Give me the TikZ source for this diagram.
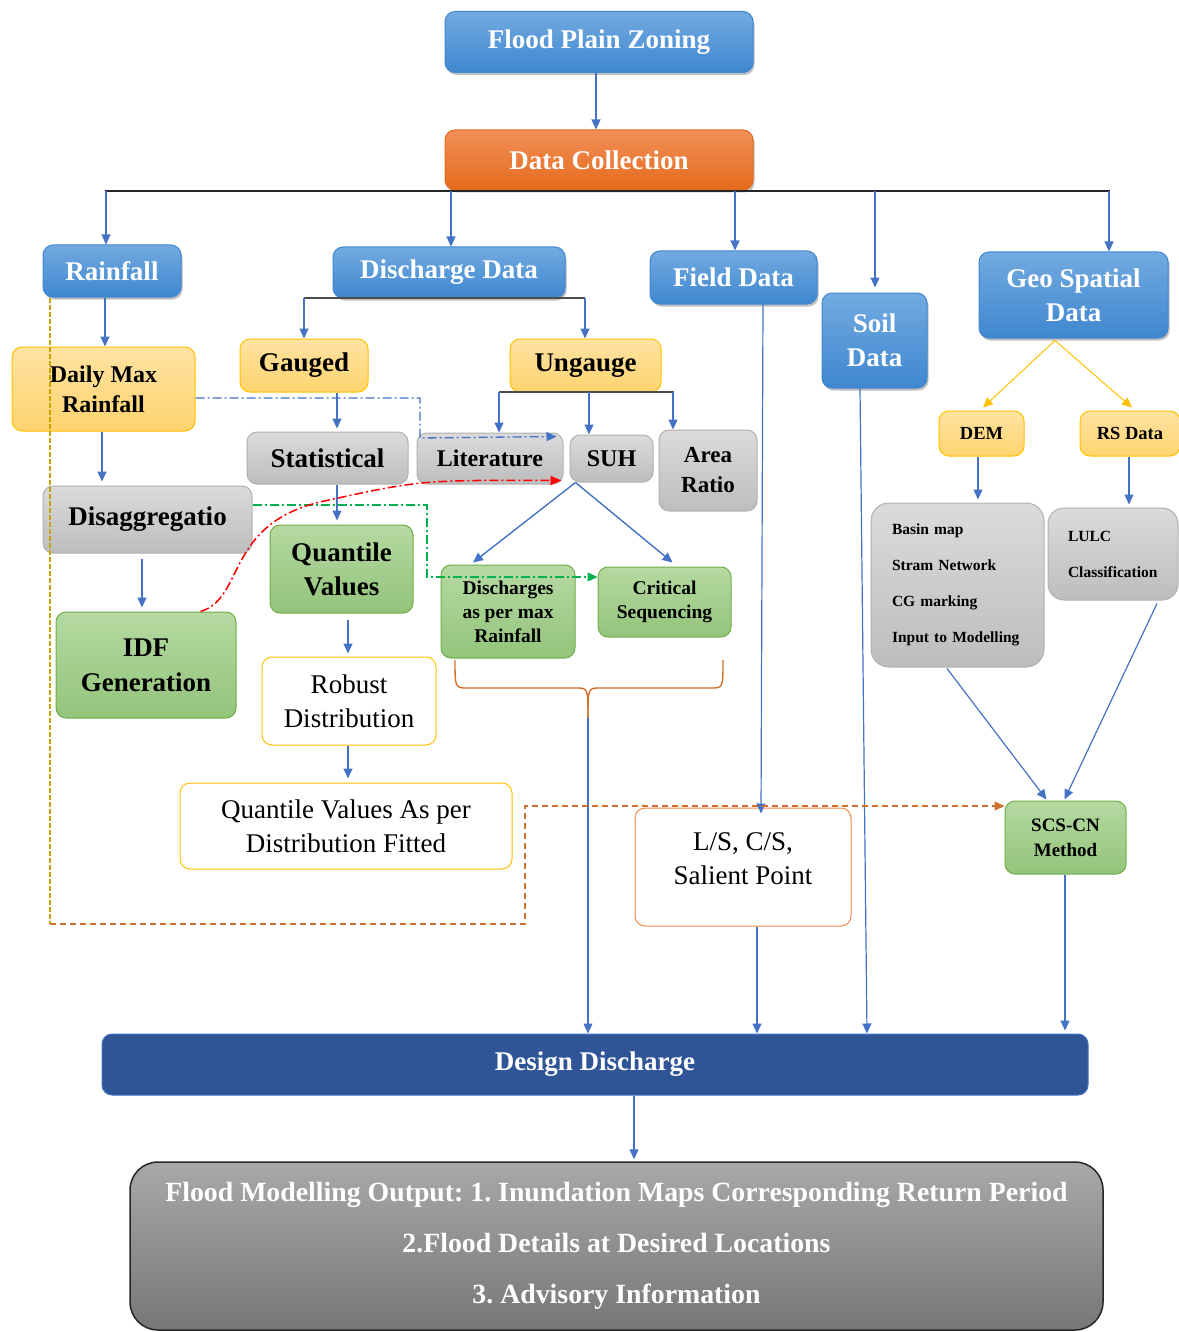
\documentclass[tikz,border=0pt]{standalone}
\usepackage{fontspec}
\setmainfont{Liberation Serif}
\usetikzlibrary{arrows.meta,shadows,calc}
\frenchspacing
\definecolor{blueT}{HTML}{72AAE0}
\definecolor{blueB}{HTML}{3F87D0}
\definecolor{orT}{HTML}{F29058}
\definecolor{orB}{HTML}{E56A1C}
\definecolor{yeT}{HTML}{FFE3A3}
\definecolor{yeB}{HTML}{FFD46E}
\definecolor{yeD}{HTML}{FFC000}
\definecolor{grT}{HTML}{DBDBDB}
\definecolor{grB}{HTML}{BDBDBD}
\definecolor{grD}{HTML}{B0B0B0}
\definecolor{gnT}{HTML}{B5D9A2}
\definecolor{gnB}{HTML}{93C47B}
\definecolor{gnD}{HTML}{70AD47}
\definecolor{arrowblue}{HTML}{4472C4}
\definecolor{ddblue}{HTML}{2F5597}
\definecolor{lsor}{HTML}{F08A4B}
\definecolor{brown}{HTML}{D0702A}
\definecolor{gold}{HTML}{C9A200}
\definecolor{dgreen}{HTML}{00B050}
\definecolor{outT}{HTML}{A8A8A8}
\definecolor{outB}{HTML}{777777}
\begin{document}
\begin{tikzpicture}[x=1pt,y=-1pt,
  box/.style={rounded corners=10pt, inner sep=0pt, align=center, line width=1pt,
    font=\bfseries\fontsize{27}{34}\selectfont},
  shad/.style={drop shadow={shadow xshift=1.5pt, shadow yshift=-2.5pt, opacity=0.35, fill=black!70}},
  bluebox/.style={box, shad, draw=blueB, top color=blueT, bottom color=blueB, text=white},
  orbox/.style={box, shad, draw=orB, top color=orT, bottom color=orB, text=white},
  yebox/.style={box, draw=yeD, top color=yeT, bottom color=yeB, text=black},
  grbox/.style={box, draw=grD, top color=grT, bottom color=grB, text=black},
  gnbox/.style={box, draw=gnD, top color=gnT, bottom color=gnB, text=black},
  wbox/.style={box, draw=yeD, fill=white, text=black, font=\fontsize{27}{34}\selectfont},
  arr/.style={draw=arrowblue, line width=1.2pt, -{Triangle[length=10pt,width=9pt]}},
  yarr/.style={draw=yeD, line width=1pt, -{Triangle[length=10pt,width=9pt]}},
  bus/.style={draw=black!85, line width=1.6pt},
  gbus/.style={draw=black!70, line width=2.2pt},
  dashdot/.style={line width=1.3pt, dash pattern=on 9pt off 3pt on 2pt off 3pt},
]
\useasboundingbox (0,0) rectangle (1178,1332);

% ---------- nodes ----------
\node[bluebox, minimum width=308pt, minimum height=61pt] (fpz) at (599,42) {Flood Plain Zoning};
\node[orbox, minimum width=308pt, minimum height=60pt] (dc) at (599,160) {Data Collection};

\node[bluebox, minimum width=138pt, minimum height=52pt] (rain) at (112,271) {Rainfall};
\node[bluebox, minimum width=232pt, minimum height=51pt] (dis) at (449,272.5) {Discharge Data};
\node[bluebox, minimum width=167pt, minimum height=53pt] (field) at (733.5,277.5) {Field Data};
\node[bluebox, minimum width=105pt, minimum height=95pt] (soil) at (874.5,340.5) {Soil\\Data};
\node[bluebox, minimum width=189pt, minimum height=86pt] (geo) at (1073.5,295) {Geo Spatial\\Data};

\node[yebox, minimum width=183pt, minimum height=84pt, font=\bfseries\fontsize{24}{30}\selectfont] (dmr) at (103.5,389) {Daily Max\\Rainfall};
\node[yebox, minimum width=128pt, minimum height=53pt] (gau) at (304,365.5) {Gauged};
\node[yebox, minimum width=151pt, minimum height=53pt] (ung) at (585.5,365.5) {Ungauge};

\node[grbox, minimum width=161pt, minimum height=52pt] (stat) at (327.5,458) {Statistical};
\node[grbox, minimum width=146pt, minimum height=51pt, font=\bfseries\fontsize{24}{30}\selectfont] (lit) at (490,458.5) {Literature};
\node[grbox, minimum width=83pt, minimum height=47pt, font=\bfseries\fontsize{24}{30}\selectfont] (suh) at (611.5,458.5) {SUH};
\node[grbox, minimum width=98pt, minimum height=81pt, font=\bfseries\fontsize{23}{30}\selectfont] (area) at (708,470.5) {Area\\Ratio};

\node[grbox, minimum width=209pt, minimum height=67pt] (dsg) at (147.5,519.5) {\raisebox{5pt}{Disaggregatio}};
\node[gnbox, minimum width=143pt, minimum height=88pt] (qv) at (341.5,569) {Quantile\\Values};
\node[gnbox, minimum width=180pt, minimum height=106pt, font=\bfseries\fontsize{27}{35}\selectfont] (idf) at (146,665) {IDF\\Generation};
\node[wbox, minimum width=174pt, minimum height=88pt] (rob) at (349,701) {Robust\\Distribution};
\node[wbox, minimum width=332pt, minimum height=86pt] (qvd) at (346,826) {Quantile Values As per\\Distribution Fitted};

\node[gnbox, minimum width=134pt, minimum height=93pt, font=\bfseries\fontsize{19.5}{24}\selectfont] (dpm) at (508,611.5) {Discharges\\as per max\\Rainfall};
\node[gnbox, minimum width=133pt, minimum height=70pt, font=\bfseries\fontsize{19.5}{24}\selectfont] (crit) at (664.5,602) {Critical\\Sequencing};

\node[box, draw=lsor, fill=white, minimum width=216pt, minimum height=118pt] (ls) at (743,867) {};
\node[font=\fontsize{27}{34}\selectfont, align=center, inner sep=0pt] (lst) at (743,859) {L/S, C/S,\\Salient Point};

\node[yebox, minimum width=85pt, minimum height=45pt, font=\bfseries\fontsize{18.5}{24}\selectfont] (dem) at (981.5,433.5) {DEM};
\node[yebox, minimum width=100pt, minimum height=45pt, font=\bfseries\fontsize{18.5}{24}\selectfont] (rs) at (1130,433.5) {RS Data};

\node[grbox, rounded corners=18pt, minimum width=173pt, minimum height=164pt, text width=131pt, inner xsep=21pt, align=left, font=\bfseries\fontsize{15.5}{36}\selectfont] (basin) at (957.5,585) {Basin map\\Stram Network\\CG marking\\Input to Modelling};
\node[grbox, rounded corners=16pt, minimum width=130pt, minimum height=92pt, text width=90pt, inner xsep=20pt, align=left, font=\bfseries\fontsize{15.5}{36}\selectfont] (lulc) at (1113,554) {\raisebox{4pt}{\parbox{90pt}{\raggedright LULC\\Classification}}};

\node[gnbox, minimum width=121pt, minimum height=73pt, font=\bfseries\fontsize{19}{25}\selectfont] (scs) at (1065.5,837.5) {SCS-CN\\Method};

\node[box, draw=arrowblue, fill=ddblue, text=white, minimum width=986pt, minimum height=61pt] (dd) at (595,1064.5) {Design Discharge};
\node[box, rounded corners=28pt, draw=black!85, line width=1.5pt, top color=outT, bottom color=outB, text=white, minimum width=973pt, minimum height=168pt, font=\bfseries\fontsize{27.8}{51}\selectfont] (out) at (616.5,1246) {Flood Modelling Output: 1. Inundation Maps Corresponding Return Period\\2.Flood Details at Desired Locations\\3. Advisory Information};

% ---------- connectors ----------
\draw[arr] (fpz.south -| 596,0) -- (dc.north -| 596,0);

\coordinate (busL) at (105,191);
\coordinate (busR) at (1110,191);
\draw[bus] (busL) -- (busR);
\coordinate (b1) at (106,191);
\coordinate (b2) at (451,191);
\coordinate (b3) at (735,191);
\coordinate (b4) at (875,191);
\coordinate (b5) at (1109,191);
\draw[arr] (b1) -- (b1 |- rain.north);
\draw[arr] (b2) -- (b2 |- dis.north);
\draw[arr] (b3) -- (b3 |- field.north);
\draw[arr] (b4) -- ($(b4 |- soil.north)+(0,-5)$);
\draw[arr] (b5) -- (b5 |- geo.north);

% discharge split
\coordinate (dL) at (304,298);
\coordinate (dR) at (585,298);
\draw[gbus] (dL) -- (dR);
\draw[arr] (dL) -- (dL |- gau.north);
\draw[arr] (dR) -- (dR |- ung.north);

% ungauge split
\coordinate (uL) at (499,392);
\coordinate (uM) at (589,392);
\coordinate (uR) at (674,392);
\draw[gbus] (uL) -- (uR);
\draw[arr] (uL) -- (uL |- lit.north);
\draw[arr] (uM) -- (uM |- suh.north);
\draw[arr] ([xshift=-1pt]uR) -- ([xshift=-1pt]uR |- area.north);

% rainfall chain
\draw[arr] (rain.south -| 105,0) -- (dmr.north -| 105,0);
\draw[arr] (dmr.south -| 102,0) -- ($(dsg.north -| 102,0)+(0,-4)$);
\draw[arr] ($(dsg.south -| 142,0)+(0,5)$) -- ($(idf.north -| 142,0)+(0,-4)$);

% gauged chain
\draw[arr] (gau.south -| 337,0) -- ($(stat.north -| 337,0)+(0,-3)$);
\draw[arr] (stat.south -| 337,0) -- ($(qv.north -| 337,0)+(0,-4)$);
\draw[arr] ($(qv.south -| 348,0)+(0,6)$) -- ($(rob.north -| 348,0)+(0,-3)$);
\draw[arr] (rob.south -| 348,0) -- ($(qvd.north -| 348,0)+(0,-4)$);

% SUH split
\coordinate (sb) at ([xshift=-36pt]suh.south);
\draw[arr, line width=1.4pt] (sb) -- ([xshift=-35pt,yshift=2pt]dpm.north);
\draw[arr, line width=1.4pt] (sb) -- ([xshift=8pt,yshift=4pt]crit.north);

% brace under dpm and crit
\coordinate (bt) at (588,718);
\draw[brown, line width=1.4pt] (455,660) .. controls (455,688) .. (468,688) -- (576,688) .. controls (588,688) .. (bt);
\draw[brown, line width=1.4pt] (bt) .. controls (588,688) .. (600,688) -- (711,688) .. controls (723,688) .. (723,660);
\draw[arr] (bt) -- (bt |- dd.north);

% field data / soil data
\draw[arr] ([xshift=29.5pt]field.south) -- ([xshift=18pt,yshift=-6pt]ls.north);
\draw[arr] ([xshift=14pt]ls.south) -- ([xshift=14pt]ls.south |- dd.north);
\draw[arr] ([xshift=-14.5pt]soil.south) -- (867,0 |- dd.north);

% geo spatial
\coordinate (gb) at ([xshift=-18.5pt,yshift=-2pt]geo.south);
\draw[yarr] (gb) -- ([xshift=1.5pt,yshift=3pt]dem.north);
\draw[yarr] (gb) -- ([xshift=2pt,yshift=3pt]rs.north);
\draw[arr] (dem.south -| 978,0) -- ($(basin.north -| 978,0)+(0,-3)$);
\draw[arr] (rs.south -| 1129,0) -- ($(lulc.north -| 1129,0)+(0,-3)$);
\draw[arr] ([xshift=-10.5pt,yshift=-1pt]basin.south) -- ([xshift=-19pt,yshift=1pt]scs.north);
\draw[arr] ([xshift=44pt,yshift=-3pt]lulc.south) -- ([xshift=-1pt,yshift=1pt]scs.north);
\draw[arr] (scs.south -| 1065,0) -- ($(dd.north -| 1065,0)+(0,-3)$);

\draw[arr] (dd.south -| 634,0) -- ($(out.north -| 634,0)+(0,-2)$);

% ---------- dashed relations ----------
\draw[arrowblue, dashdot, -{Triangle[length=10pt,width=9pt]}] (dmr.east |- 0,398) -- (420,398) -- (420,438) -- ([xshift=-7pt,yshift=-4pt]lit.north east);
\draw[dgreen, dashdot, -{Triangle[length=10pt,width=9pt]}] (dsg.east |- 0,505) -- (427,505) -- (427,577) -- (crit.west |- 0,577);
\draw[red, dashdot, line width=1.5pt, -{Triangle[length=11pt,width=9pt]}] ([xshift=-36pt]idf.north east) .. controls (245,598) and (225,525) .. (320,502) .. controls (420,480) .. ([xshift=-2pt,yshift=4pt]lit.south east);
\draw[gold, line width=1.1pt, dash pattern=on 5pt off 2pt] (50,0 |- rain.south) -- (50,924);
\draw[brown, line width=1.4pt, dash pattern=on 6pt off 4pt, -{Triangle[length=10pt,width=9pt]}] (50,924) -- (525,924) -- (525,806) -- (scs.west |- 0,806);
\end{tikzpicture}
\end{document}
